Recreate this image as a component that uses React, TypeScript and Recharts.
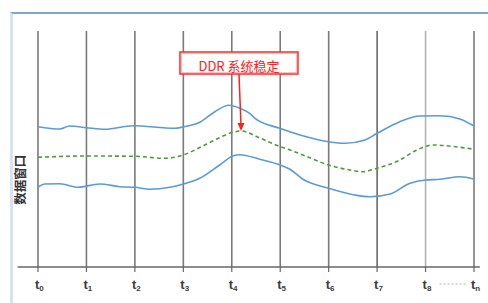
import React from "react";
import { LineChart, Line, XAxis, YAxis, ReferenceLine, ReferenceDot } from "recharts";

// Time ticks t0 .. tn
const tickPositions = [0, 1, 2, 3, 4, 5, 6, 7, 8, 9];
const tickSubs = ["0", "1", "2", "3", "4", "5", "6", "7", "8", "n"];
const gridColors = ["#7a7a7a", "#7a7a7a", "#7a7a7a", "#7a7a7a", "#7a7a7a", "#7a7a7a", "#7a7a7a", "#6a6a6a", "#b4b4b4", "#7a7a7a"];

// Upper bound of the data window
const upperT = [0, 0.45, 0.65, 1.0, 1.38, 1.96, 2.82, 2.99, 3.34, 3.65, 3.94, 4.17, 4.37, 4.48, 4.99, 5.41, 6.0, 6.34, 6.75, 7.0, 7.47, 7.88, 8.3, 8.71, 9.0];
const upperV = [140.3, 138, 141, 139.3, 137.7, 141.3, 138.7, 140, 144.7, 155.3, 161.7, 158.7, 153.7, 148.7, 138.7, 132, 125.3, 123.7, 127, 133.7, 145.3, 151, 151.3, 148, 141];

// Lower bound of the data window
const lowerT = [0, 0.14, 0.45, 0.82, 1.27, 1.69, 2.0, 2.31, 2.72, 3.0, 3.34, 3.75, 4.02, 4.17, 4.58, 5.0, 5.2, 5.47, 6.0, 6.54, 6.85, 7.27, 7.68, 8.0, 8.3, 8.71, 9.0];
const lowerV = [79.7, 83, 83.3, 79.7, 83, 80.3, 79.7, 77.7, 79.7, 83, 88.7, 102, 111, 112.3, 107.7, 102, 97.7, 87.7, 78.7, 72, 70.3, 73, 83.7, 87, 87.7, 90.3, 88];

// Middle (dashed) line
const midT = [0, 1.0, 2.0, 2.62, 3.0, 3.34, 3.65, 4.02, 4.19, 4.58, 5.0, 5.2, 5.47, 6.0, 6.44, 6.69, 7.0, 7.47, 7.78, 8.15, 8.71, 9.0];
const midV = [109.7, 111, 110.7, 108.7, 112, 119.5, 127, 134.7, 136, 129, 120.3, 117, 112, 102, 97, 95.3, 98.7, 107, 116, 122, 119.7, 117.7];

// Annotation
const annotationText = "DDR 系统稳定";
const annotationT = 4.19;
const annotationV = 136;
const yLabel = "数据窗口";

const zip = (ts: number[], vs: number[]) => ts.map((t, i) => ({ t, v: vs[i] }));
const upperData = zip(upperT, upperV);
const lowerData = zip(lowerT, lowerV);
const midData = zip(midT, midV);

const Tick = (props: any) => {
  const { x, y, payload, index } = props;
  const sub = tickSubs[tickPositions.indexOf(payload.value)];
  return (
    <g>
      <text x={x - 3} y={y + 15} textAnchor="start" fontSize={13} fontWeight="bold" fill="#3c3c3c" fontFamily="Liberation Sans, Arial, sans-serif">
        t<tspan fontSize={8} dy={2}>{sub}</tspan>
      </text>
      {index === 8 && (
        <line x1={x + 14} x2={x + 40} y1={y + 10} y2={y + 10} stroke="#b0b0b0" strokeWidth={1} strokeDasharray="2 2" />
      )}
    </g>
  );
};

const AnnotationShape = (props: any) => {
  const { cx, cy } = props;
  const bx = cx - 2;
  return (
    <g>
      <line x1={bx} y1={cy - 57} x2={cx} y2={cy - 6} stroke="#ff2020" strokeWidth={1.5} />
      <polygon points={`${cx - 3.5},${cy - 8} ${cx + 3.5},${cy - 8} ${cx},${cy}`} fill="#ff2020" />
      <rect x={bx - 59} y={cy - 79} width={118} height={22} fill="#fff" stroke="#ff2a2a" strokeWidth={1.5} />
      <rect x={bx - 57.5} y={cy - 77.5} width={115} height={19} fill="none" stroke="#ffc0c0" strokeWidth={1} />
      <text x={bx} y={cy - 63.5} textAnchor="middle" dominantBaseline="middle" fontSize={13} fill="#ff2020" fontFamily="Noto Sans CJK SC, sans-serif">
        {annotationText}
      </text>
    </g>
  );
};

const YLabel = (props: any) => {
  const { viewBox } = props;
  const x = viewBox.x + 14;
  const y = viewBox.y + viewBox.height * 0.63;
  return (
    <text x={x} y={y} transform={`rotate(-90 ${x} ${y})`} textAnchor="middle" dominantBaseline="middle" fontSize={12.5} fontWeight="bold" fill="#333" fontFamily="Noto Sans CJK SC, sans-serif">
      {yLabel}
    </text>
  );
};

export default function App() {
  return (
    <div style={{ position: "absolute", left: 0, top: 0, width: 488, height: 303, background: "#fff", overflow: "hidden" }}>
      <div style={{ position: "absolute", left: 10, top: 12, width: 490, height: 300, borderTop: "2px solid #7ea5cb", borderLeft: "3px solid #d6e3f0", boxSizing: "border-box" }} />
      <div style={{ position: "absolute", left: 0, top: 0 }}>
        <LineChart width={488} height={303} margin={{ top: 31, right: 14, bottom: 6, left: 8 }}>
          <XAxis
            dataKey="t"
            type="number"
            domain={[0, 9]}
            ticks={tickPositions}
            allowDataOverflow
            axisLine={false}
            tickLine={{ stroke: "#666", strokeWidth: 1.2 }}
            tickSize={5}
            tickMargin={2}
            height={30}
            tick={<Tick />}
            interval={0}
          />
          <YAxis
            type="number"
            domain={[0, 236]}
            width={30}
            axisLine={false}
            tickLine={false}
            tick={false}
            label={{ content: <YLabel /> }}
          />
          {tickPositions.map((p, i) => (
            <ReferenceLine key={p} x={p} stroke={gridColors[i]} strokeWidth={1.6} />
          ))}
          <ReferenceLine
            segment={[{ x: -0.42, y: 0 }, { x: 9.12, y: 0 }]}
            stroke="#666"
            strokeWidth={1.6}
            ifOverflow="visible"
          />
          <Line data={upperData} dataKey="v" type="monotone" stroke="#5b9bd5" strokeWidth={1.6} dot={false} isAnimationActive={false} />
          <Line data={lowerData} dataKey="v" type="monotone" stroke="#5b9bd5" strokeWidth={1.6} dot={false} isAnimationActive={false} />
          <Line data={midData} dataKey="v" type="monotone" stroke="#4f9a3e" strokeWidth={1.6} strokeDasharray="4 3" dot={false} isAnimationActive={false} />
          <ReferenceDot x={annotationT} y={annotationV} r={0} ifOverflow="visible" shape={<AnnotationShape />} />
        </LineChart>
      </div>
    </div>
  );
}
